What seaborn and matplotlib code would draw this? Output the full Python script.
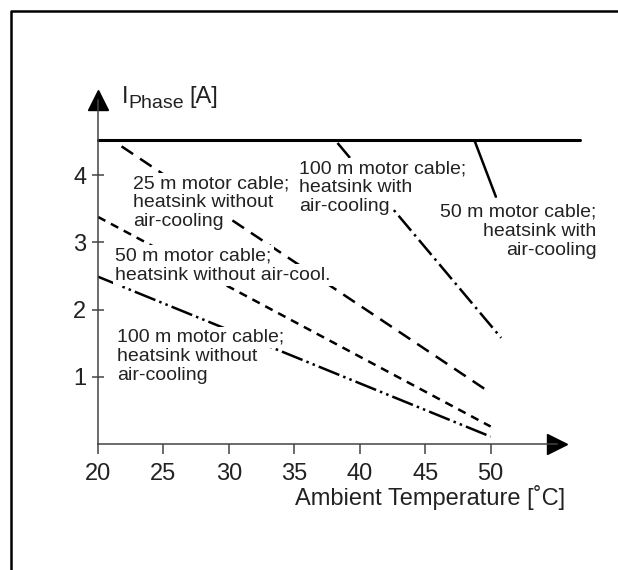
import matplotlib
matplotlib.use('Agg')
import matplotlib.pyplot as plt
from matplotlib.lines import Line2D
import seaborn as sns

# Phase current derating curves
temp_limit = [20, 56.8]
phase_limit = [4.52, 4.52]

temp_25m_no_air = [21.8, 50]
phase_25m_no_air = [4.43, 0.76]

temp_50m_no_air = [20, 50]
phase_50m_no_air = [3.38, 0.26]

temp_100m_no_air = [20, 50]
phase_100m_no_air = [2.49, 0.11]

temp_100m_air = [38.3, 50.8]
phase_100m_air = [4.48, 1.58]

temp_50m_air = [48.8, 50.4]
phase_50m_air = [4.5, 3.68]

x_ticks = [20, 25, 30, 35, 40, 45, 50]
y_ticks = [1, 2, 3, 4]

label_25m_no_air = ["25 m motor cable;", "heatsink without", "air-cooling"]
label_50m_no_air = ["50 m motor cable;", "heatsink without air-cool."]
label_100m_no_air = ["100 m motor cable;", "heatsink without", "air-cooling"]
label_100m_air = ["100 m motor cable;", "heatsink with", "air-cooling"]
label_50m_air = ["50 m motor cable;", "heatsink with", "air-cooling"]

sns.set_style('white')
plt.rcParams['font.family'] = ['Liberation Sans', 'DejaVu Sans']
plt.rcParams['lines.scale_dashes'] = False

axis_color = '#444444'
text_color = '#222222'

fig = plt.figure(figsize=(6.18, 5.7), dpi=100)
ax = fig.add_axes([98 / 618, 126 / 570, 459 / 618, 344 / 570])

lw = 1.8
sns.lineplot(x=temp_limit, y=phase_limit, ax=ax, color='k', lw=2.2, clip_on=False)
sns.lineplot(x=temp_25m_no_air, y=phase_25m_no_air, ax=ax, color='k', lw=lw,
             linestyle=(0, (10, 6)))
sns.lineplot(x=temp_50m_no_air, y=phase_50m_no_air, ax=ax, color='k', lw=lw,
             linestyle=(0, (6, 4.5)))
sns.lineplot(x=temp_100m_no_air, y=phase_100m_no_air, ax=ax, color='k', lw=lw,
             linestyle=(0, (16, 3, 1.8, 3, 1.8, 3)))
sns.lineplot(x=temp_100m_air, y=phase_100m_air, ax=ax, color='k', lw=lw,
             linestyle=(0, (14, 3.5, 1.8, 3.5)), clip_on=False)
sns.lineplot(x=temp_50m_air, y=phase_50m_air, ax=ax, color='k', lw=lw)


def put_label(lines, x, y, ha='left'):
    # one text per row so the white mask hugs each row like in the original
    for i, row in enumerate(lines):
        ax.annotate(row, xy=(x, y), xytext=(0, -13.7 * i), textcoords='offset points',
                    ha=ha, va='baseline', fontsize=14, color=text_color,
                    annotation_clip=False, zorder=5,
                    bbox=dict(boxstyle='square,pad=0.12', fc='white', ec='none'))


put_label(label_25m_no_air, 22.67, 3.81)
put_label(label_50m_no_air, 21.3, 2.73)
put_label(label_100m_no_air, 21.45, 1.52)
put_label(label_100m_air, 35.36, 4.03)
put_label(label_50m_air, 58.1, 3.38, ha='right')

ax.set_xlim(20, 55.07)
ax.set_ylim(0, 5.12)
ax.set_xticks(x_ticks)
ax.set_yticks(y_ticks)

for side in ['top', 'right']:
    ax.spines[side].set_visible(False)
for side in ['left', 'bottom']:
    ax.spines[side].set_color(axis_color)
    ax.spines[side].set_linewidth(1.1)

ax.tick_params(axis='x', bottom=True, direction='out', length=7, width=1.1, pad=6.5,
               color=axis_color, labelsize=17, labelcolor=text_color)
ax.tick_params(axis='y', left=True, direction='inout', length=8, width=1.1, pad=4.5,
               color=axis_color, labelsize=17, labelcolor=text_color)

# arrow heads on the axes
ax.plot(1, 0, '>k', ms=14, transform=ax.get_yaxis_transform(), clip_on=False)
ax.plot(0, 1, '^k', ms=14, transform=ax.transAxes, clip_on=False)

ax.set_xlabel('Ambient Temperature [˚C]', fontsize=17, color=text_color,
              ha='right', va='baseline')
ax.xaxis.set_label_coords(1.017, -0.177)

# y label "I_Phase [A]" put together from three pieces
ax.text(0.052, 0.991, 'I', transform=ax.transAxes, fontsize=17,
        color=text_color, ha='left', va='baseline')
ax.text(0.0654, 0.977, 'Phase', transform=ax.transAxes, fontsize=14,
        color=text_color, ha='left', va='baseline')
ax.text(0.2, 0.991, '[A]', transform=ax.transAxes, fontsize=17,
        color=text_color, ha='left', va='baseline')

# page frame (top and left edge only)
fig.add_artist(Line2D([11 / 618, 11 / 618, 1.0], [0.0, 1 - 11 / 570, 1 - 11 / 570],
                      color='k', lw=1.8, transform=fig.transFigure))

fig.savefig('out.png', dpi=100)
